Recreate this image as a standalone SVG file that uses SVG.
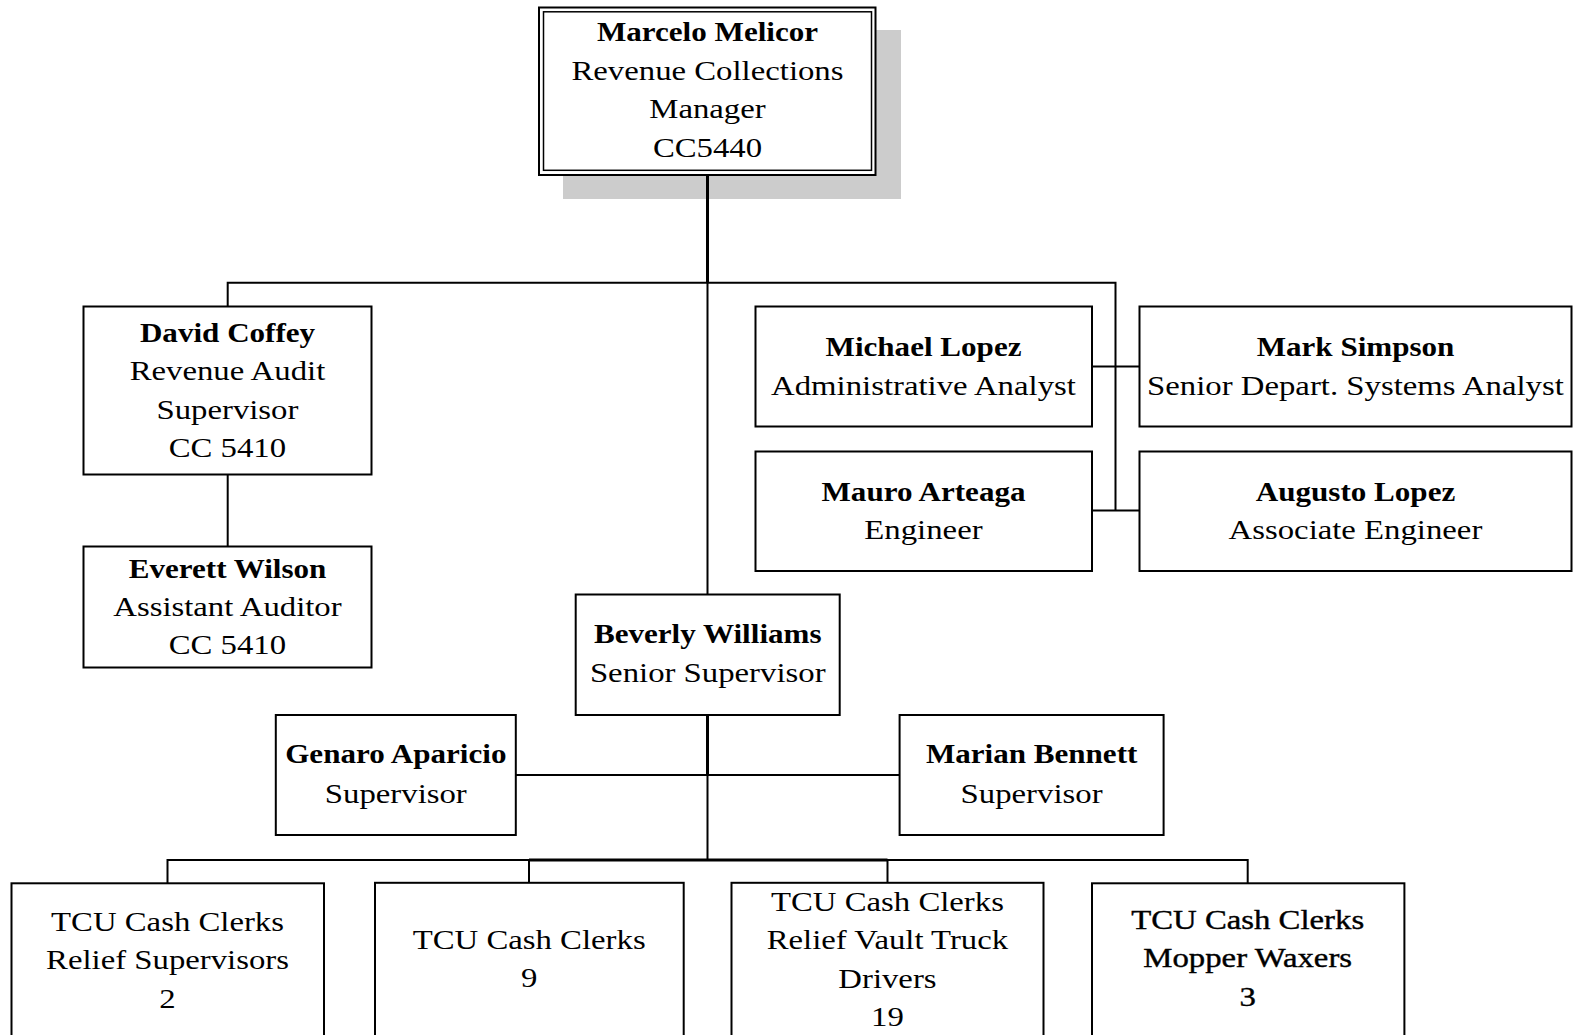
<svg xmlns="http://www.w3.org/2000/svg" width="1585" height="1035" viewBox="0 0 1585 1035">
<style>
.box{fill:#fff;stroke:#000;stroke-width:2}
.inner{fill:none;stroke:#000;stroke-width:1.5}
.shadow{fill:#cccccc;stroke:none}
.ln{stroke:#000;stroke-width:2;fill:none}
.thick{stroke-width:3}
text{font-family:"Liberation Serif","Times New Roman",serif;font-size:28px;fill:#000;text-anchor:middle}
.b{font-weight:bold}
.heavy{stroke:#000;stroke-width:0.4}
</style>
<rect width="1585" height="1035" fill="#fff"/>
<g id="node-marcelo">
<rect class="shadow" x="563" y="30" width="338" height="169"/>
<rect class="box" x="539" y="7.5" width="336.5" height="167.5"/>
<rect class="inner" x="543.5" y="11.8" width="328" height="158.5"/>
<text class="b" transform="scale(1.11 1)" x="637.4" y="41.5">Marcelo Melicor</text>
<text transform="scale(1.17 1)"><tspan x="604.7" y="80">Revenue Collections</tspan><tspan x="604.7" y="118.5">Manager</tspan><tspan x="604.7" y="157">CC5440</tspan></text>
</g>
<g id="node-david">
<rect class="box" x="83.5" y="306.5" width="288" height="168"/>
<text class="b" transform="scale(1.11 1)" x="205" y="342.5">David Coffey</text>
<text transform="scale(1.17 1)"><tspan x="194.4" y="380.5">Revenue Audit</tspan><tspan x="194.4" y="419">Supervisor</tspan><tspan x="194.4" y="457.5">CC 5410</tspan></text>
</g>
<g id="node-everett">
<rect class="box" x="83.5" y="546.5" width="288" height="121"/>
<text class="b" transform="scale(1.11 1)" x="205" y="578.5">Everett Wilson</text>
<text transform="scale(1.17 1)"><tspan x="194.4" y="616.5">Assistant Auditor</tspan><tspan x="194.4" y="654.5">CC 5410</tspan></text>
</g>
<g id="node-michael">
<rect class="box" x="755.5" y="306.5" width="336.5" height="120"/>
<text class="b" transform="scale(1.11 1)" x="832" y="356.5">Michael Lopez</text>
<text transform="scale(1.17 1)" x="789.3" y="395.5">Administrative Analyst</text>
</g>
<g id="node-mark">
<rect class="box" x="1139.5" y="306.5" width="432" height="120"/>
<text class="b" transform="scale(1.11 1)" x="1221.2" y="356.5">Mark Simpson</text>
<text transform="scale(1.17 1)" x="1158.5" y="395.5">Senior Depart. Systems Analyst</text>
</g>
<g id="node-mauro">
<rect class="box" x="755.5" y="451.5" width="336.5" height="119.5"/>
<text class="b" transform="scale(1.11 1)" x="832" y="501">Mauro Arteaga</text>
<text transform="scale(1.17 1)" x="789.3" y="539.5">Engineer</text>
</g>
<g id="node-augusto">
<rect class="box" x="1139.5" y="451.5" width="432" height="119.5"/>
<text class="b" transform="scale(1.11 1)" x="1221.2" y="501">Augusto Lopez</text>
<text transform="scale(1.17 1)" x="1158.5" y="539.5">Associate Engineer</text>
</g>
<g id="node-beverly">
<rect class="box" x="575.7" y="594.5" width="264" height="120.5"/>
<text class="b" transform="scale(1.11 1)" x="637.6" y="643">Beverly Williams</text>
<text transform="scale(1.17 1)" x="604.9" y="682.5">Senior Supervisor</text>
</g>
<g id="node-genaro">
<rect class="box" x="275.8" y="715" width="240" height="120"/>
<text class="b" transform="scale(1.11 1)" x="356.6" y="763.5">Genaro Aparicio</text>
<text transform="scale(1.17 1)" x="338.3" y="803">Supervisor</text>
</g>
<g id="node-marian">
<rect class="box" x="899.6" y="715" width="264" height="120"/>
<text class="b" transform="scale(1.11 1)" x="929.4" y="763.5">Marian Bennett</text>
<text transform="scale(1.17 1)" x="881.7" y="803">Supervisor</text>
</g>
<g id="node-clerks-relief-sup">
<rect class="box" x="11.5" y="883.3" width="312.5" height="170"/>
<text transform="scale(1.17 1)"><tspan x="143.2" y="931">TCU Cash Clerks</tspan><tspan x="143.2" y="969.5">Relief Supervisors</tspan><tspan x="143.2" y="1008">2</tspan></text>
</g>
<g id="node-clerks">
<rect class="box" x="375" y="882.8" width="308.7" height="170"/>
<text transform="scale(1.17 1)"><tspan x="452.3" y="949">TCU Cash Clerks</tspan><tspan x="452.3" y="987.5">9</tspan></text>
</g>
<g id="node-clerks-vault">
<rect class="box" x="731.5" y="882.8" width="312" height="170"/>
<text transform="scale(1.17 1)"><tspan x="758.5" y="911">TCU Cash Clerks</tspan><tspan x="758.5" y="949.5">Relief Vault Truck</tspan><tspan x="758.5" y="988">Drivers</tspan><tspan x="758.5" y="1026">19</tspan></text>
</g>
<g id="node-clerks-mopper">
<rect class="box" x="1092" y="883.3" width="312.4" height="170"/>
<text class="heavy" transform="scale(1.17 1)"><tspan x="1066.4" y="929">TCU Cash Clerks</tspan><tspan x="1066.4" y="967.5">Mopper Waxers</tspan><tspan x="1066.4" y="1006">3</tspan></text>
</g>
<g id="connectors">
<path class="ln thick" d="M707.5 175V282.7"/>
<path class="ln" d="M707.5 282.7V594.5"/>
<path class="ln" d="M227.7 306.5V282.7H1115.5V510.5"/>
<path class="ln" d="M227.7 474.5V546.5"/>
<path class="ln" d="M1092 366.5H1139.5"/>
<path class="ln" d="M1092 510.5H1139.5"/>
<path class="ln thick" d="M707.5 715V775"/>
<path class="ln" d="M515.8 775H899.6"/>
<path class="ln" d="M707.5 775V860"/>
<path class="ln" d="M167.5 883.3V860H1247.7V883.3"/>
<path class="ln thick" d="M529 860H887.5"/>
<path class="ln" d="M529 860V882.8"/>
<path class="ln" d="M887.5 860V882.8"/>
</g>
</svg>
